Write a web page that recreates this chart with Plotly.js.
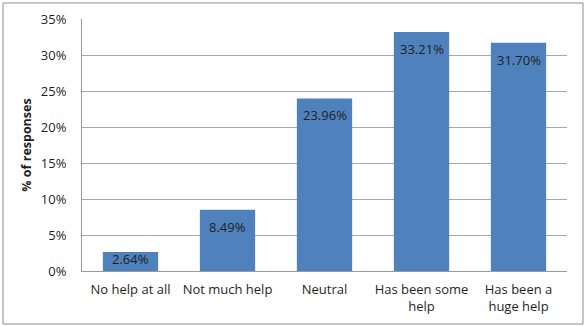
<!DOCTYPE html>
<html>
<head>
<meta charset="utf-8">
<script src="https://cdn.plot.ly/plotly-3.0.1.min.js"></script>
<style>
  html, body { margin: 0; padding: 0; background: #fff; }
  #chart { width: 587px; height: 326px; }
</style>
</head>
<body>
<div id="chart"></div>
<script>
// Survey answers and share of responses (%)
const categories = ["No help at all", "Not much help", "Neutral", "Has been some<br>help", "Has been a<br>huge help"];
const responses = [2.64, 8.49, 23.96, 33.21, 31.70];
const yTickValues = [0, 5, 10, 15, 20, 25, 30, 35];
const yTickLabels = ["0%", "5%", "10%", "15%", "20%", "25%", "30%", "35%"];

const font = "Open Sans, Liberation Sans, Arial, sans-serif";
const textColor = "#1f1f1f";

const W = 587, H = 326;
const margin = { l: 82, r: 20, t: 19, b: 55 };
const yMax = 35;
const pxPerUnit = (H - margin.t - margin.b) / yMax;

// Value labels sit just inside the top of each bar; short bars push the label up.
const labels = responses.map((v, i) => {
  const barPx = v * pxPerUnit;
  return {
    x: categories[i],
    y: v,
    xref: "x",
    yref: "y",
    text: v.toFixed(2) + "%",
    showarrow: false,
    yanchor: "top",
    yshift: -Math.min(6, barPx - 23),
    font: { family: font, size: 13, color: textColor }
  };
});

const trace = {
  type: "bar",
  x: categories,
  y: responses,
  marker: { color: "#4F81BD", line: { width: 0 } },
  hoverinfo: "none"
};

const layout = {
  width: W,
  height: H,
  margin: margin,
  paper_bgcolor: "#fff",
  plot_bgcolor: "#fff",
  bargap: 0.43,
  showlegend: false,
  font: { family: font, size: 13, color: textColor },
  annotations: labels,
  xaxis: {
    type: "category",
    showgrid: false,
    showline: true,
    linecolor: "#9a9a9a",
    linewidth: 1,
    ticks: "",
    ticklabelstandoff: 6,
    tickfont: { family: font, size: 13, color: textColor },
    fixedrange: true
  },
  yaxis: {
    range: [0, yMax],
    tickvals: yTickValues,
    ticktext: yTickLabels,
    showgrid: true,
    gridcolor: "#a6a6a6",
    gridwidth: 1,
    zeroline: false,
    showline: true,
    linecolor: "#9a9a9a",
    linewidth: 1,
    ticks: "",
    ticklabelstandoff: 12,
    tickfont: { family: font, size: 13, color: textColor },
    title: {
      text: "<b>% of responses</b>",
      font: { family: font, size: 12.5, color: textColor },
      standoff: 6
    },
    fixedrange: true
  },
  shapes: [
    {
      // chart frame
      type: "rect",
      xref: "paper", yref: "paper",
      x0: -0.1629, x1: 1.033,
      y0: -0.2103, y1: 1.0635,
      line: { color: "#8c8c8c", width: 1 },
      fillcolor: "rgba(0,0,0,0)",
      layer: "below"
    }
  ]
};

Plotly.newPlot("chart", [trace], layout, { displayModeBar: false, staticPlot: true });
</script>
</body>
</html>
